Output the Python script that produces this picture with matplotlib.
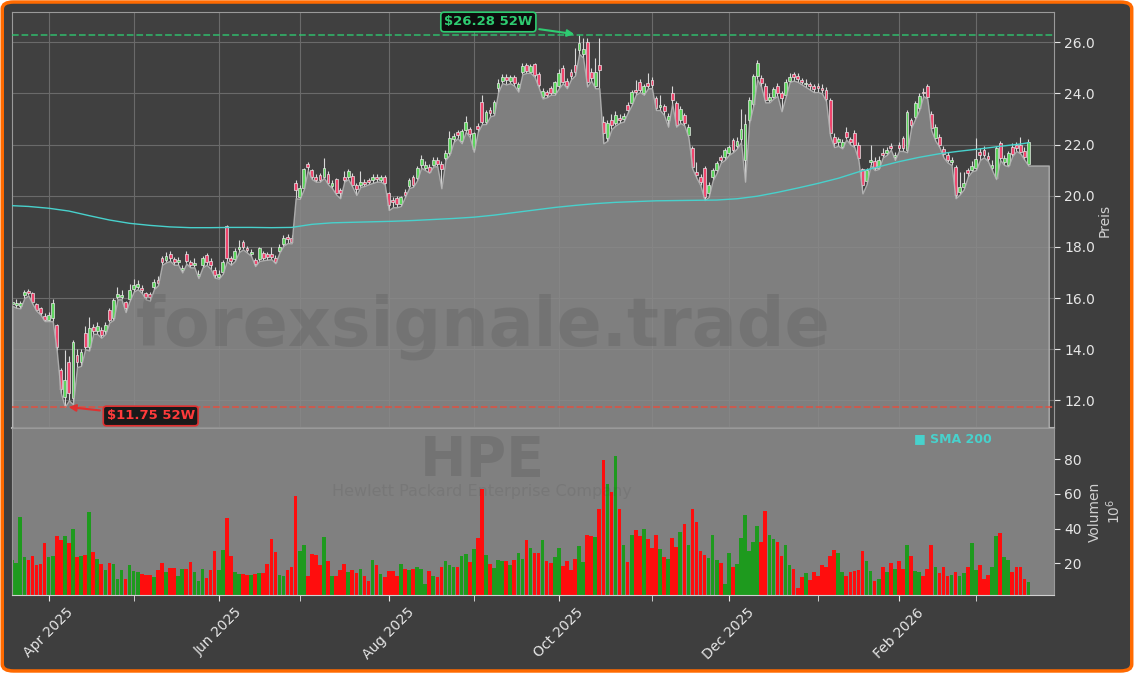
import numpy as np
import pandas as pd
import matplotlib
matplotlib.use("Agg")
import matplotlib.pyplot as plt
from matplotlib.patches import FancyBboxPatch
from matplotlib.ticker import FormatStrFormatter

# trading days (NYSE closed on these)
holidays = ["2025-04-18", "2025-05-26", "2025-06-19", "2025-07-04", "2025-09-01",
            "2025-11-27", "2025-12-25", "2026-01-01", "2026-01-19", "2026-02-16"]
dates = pd.bdate_range("2025-03-19", "2026-03-19", freq="C", holidays=holidays)

opens = [15.75, 15.72, 15.70, 16.10, 16.28, 16.20, 15.75, 15.60, 15.30, 15.15,
         15.20, 14.95, 13.20, 12.14, 13.51, 12.08, 13.77, 13.51, 14.62, 14.10,
         14.88, 14.70, 14.75, 14.70, 15.53, 15.20, 16.05, 16.05, 15.85, 15.95,
         16.35, 16.45, 16.40, 16.20, 16.15, 16.44, 16.70, 17.55, 17.50, 17.72,
         17.52, 17.40, 17.08, 17.72, 17.40, 17.28, 16.85, 17.30, 17.68, 17.45,
         17.10, 16.82, 17.03, 18.80, 17.55, 17.53, 17.90, 18.20, 17.97, 17.74,
         17.49, 17.53, 17.75, 17.72, 17.72, 17.55, 17.85, 18.10, 18.40, 18.35,
         20.48, 19.94, 20.29, 21.24, 21.00, 20.75, 20.82, 20.75, 20.85, 20.38,
         20.64, 20.22, 20.72, 20.75, 20.77, 20.40, 20.40, 20.55, 20.62, 20.60,
         20.74, 20.62, 20.72, 20.09, 19.85, 19.90, 19.68, 20.16, 20.38, 20.72,
         20.68, 21.20, 21.10, 21.14, 21.20, 21.40, 21.25, 21.46, 21.66, 22.20,
         22.48, 22.12, 22.57, 22.60, 21.83, 22.73, 23.65, 22.90, 23.35, 23.22,
         24.20, 24.50, 24.65, 24.50, 24.62, 24.20, 24.85, 25.10, 24.85, 25.14,
         24.75, 23.87, 24.05, 24.20, 24.00, 24.27, 25.01, 24.49, 24.83, 25.10,
         25.70, 25.55, 26.00, 24.85, 24.30, 25.11, 22.87, 22.25, 22.96, 22.83,
         23.05, 23.00, 23.55, 23.64, 24.15, 24.46, 24.00, 24.40, 24.53, 23.80,
         23.45, 23.50, 22.95, 24.00, 23.61, 22.96, 23.16, 22.37, 21.85, 20.94,
         20.74, 21.07, 20.09, 20.72, 21.00, 21.50, 21.50, 21.66, 22.18, 21.95,
         22.20, 21.40, 22.96, 23.59, 24.66, 24.59, 24.29, 23.75, 23.87, 24.27,
         24.00, 23.94, 24.50, 24.76, 24.68, 24.52, 24.35, 24.35, 24.27, 24.30,
         24.22, 24.13, 23.74, 22.31, 22.10, 21.92, 22.50, 22.22, 22.44, 22.00,
         21.03, 20.57, 21.30, 21.36, 21.10, 21.65, 21.68, 21.95, 21.50, 21.98,
         22.24, 21.79, 22.96, 23.09, 23.42, 24.07, 24.27, 23.18, 22.24, 22.31,
         21.83, 21.59, 21.30, 21.14, 20.15, 20.35, 21.00, 21.00, 21.10, 21.72,
         21.79, 21.55, 21.10, 20.70, 22.05, 21.30, 21.20, 21.92, 22.00, 21.98,
         21.75, 21.23]

highs = [15.95, 15.95, 15.90, 16.30, 16.35, 16.25, 15.80, 15.65, 15.40, 15.45,
         15.95, 15.00, 13.25, 13.97, 13.75, 14.35, 14.00, 14.00, 14.90, 15.27,
         15.00, 15.05, 14.85, 15.05, 15.60, 16.00, 16.45, 16.30, 15.90, 16.55,
         16.75, 16.70, 16.50, 16.25, 16.25, 16.75, 16.85, 17.65, 17.80, 17.85,
         17.60, 17.60, 17.30, 17.85, 17.50, 17.55, 17.10, 17.65, 17.75, 17.55,
         17.20, 17.10, 17.50, 18.85, 17.65, 17.95, 18.27, 18.25, 18.05, 17.92,
         17.55, 18.00, 17.82, 17.80, 18.00, 17.70, 18.10, 18.45, 18.50, 18.45,
         20.60, 20.40, 21.10, 21.30, 21.05, 20.85, 20.90, 21.46, 20.95, 20.60,
         20.70, 20.30, 20.95, 21.05, 20.90, 20.50, 20.95, 20.65, 20.70, 20.85,
         20.85, 20.82, 20.80, 20.15, 19.95, 20.00, 20.00, 20.25, 20.70, 20.80,
         21.15, 21.58, 21.35, 21.25, 21.50, 21.50, 21.35, 21.80, 22.51, 22.45,
         22.55, 22.60, 23.10, 22.70, 22.50, 22.85, 23.95, 23.35, 23.45, 23.75,
         24.55, 24.75, 24.75, 24.72, 24.70, 24.45, 25.20, 25.18, 25.15, 25.20,
         24.85, 24.20, 24.15, 24.30, 24.50, 24.95, 25.10, 24.60, 24.95, 25.76,
         26.28, 26.15, 26.16, 25.00, 25.40, 26.16, 23.10, 22.95, 23.20, 23.30,
         23.20, 23.25, 23.65, 24.15, 24.53, 24.55, 24.35, 24.79, 24.65, 23.90,
         23.94, 23.60, 23.25, 24.27, 23.70, 23.50, 23.25, 22.80, 21.95, 21.30,
         20.85, 21.15, 20.55, 21.10, 21.35, 21.60, 21.85, 22.00, 22.25, 22.30,
         23.40, 23.20, 23.85, 24.75, 25.31, 24.70, 24.40, 24.00, 24.25, 24.40,
         24.10, 24.55, 24.80, 24.85, 24.78, 24.60, 24.55, 24.45, 24.35, 24.40,
         24.35, 24.25, 23.80, 22.45, 22.30, 22.20, 22.70, 22.30, 22.55, 22.10,
         21.10, 21.10, 21.98, 21.50, 21.55, 21.88, 21.90, 22.05, 21.70, 22.10,
         22.35, 23.35, 23.05, 23.70, 24.00, 24.20, 24.36, 23.30, 22.80, 22.40,
         21.95, 21.70, 21.50, 21.20, 20.94, 20.94, 21.10, 21.35, 22.25, 21.85,
         21.95, 21.70, 21.40, 21.95, 22.15, 21.60, 21.75, 22.05, 22.10, 22.30,
         21.90, 22.20]

lows = [15.70, 15.62, 15.60, 16.00, 16.10, 15.78, 15.50, 15.35, 15.10, 15.10,
        15.10, 13.95, 12.30, 11.75, 12.00, 11.85, 13.30, 13.35, 14.00, 13.95,
        14.60, 14.60, 14.45, 14.60, 15.05, 15.15, 15.95, 15.95, 15.45, 15.90,
        16.25, 16.35, 16.20, 15.95, 15.90, 16.35, 16.50, 17.30, 17.40, 17.45,
        17.30, 17.30, 17.00, 17.35, 17.20, 17.20, 16.78, 17.20, 17.30, 17.15,
        16.80, 16.76, 16.95, 17.45, 17.30, 17.45, 17.80, 17.90, 17.78, 17.65,
        17.25, 17.45, 17.48, 17.50, 17.52, 17.36, 17.78, 18.05, 18.15, 18.14,
        19.90, 19.88, 20.25, 21.00, 20.65, 20.55, 20.55, 20.70, 20.45, 20.30,
        20.05, 19.90, 20.55, 20.65, 20.35, 20.03, 20.35, 20.38, 20.45, 20.50,
        20.55, 20.55, 20.45, 19.44, 19.55, 19.55, 19.60, 19.95, 20.30, 20.35,
        20.60, 21.10, 21.00, 20.90, 21.15, 21.15, 20.29, 21.40, 21.60, 22.10,
        22.25, 22.05, 22.50, 22.30, 21.72, 22.50, 22.80, 22.80, 23.10, 23.15,
        24.05, 24.40, 24.35, 24.40, 24.30, 24.07, 24.75, 24.80, 24.80, 24.65,
        24.25, 23.80, 23.85, 23.95, 23.95, 24.20, 24.40, 24.20, 24.55, 24.70,
        25.55, 25.40, 24.27, 24.50, 24.20, 24.20, 22.05, 22.15, 22.60, 22.75,
        22.85, 22.90, 23.25, 23.55, 23.95, 24.05, 23.95, 24.20, 24.20, 23.35,
        23.35, 23.15, 22.70, 23.60, 22.70, 22.85, 22.75, 22.30, 21.05, 20.70,
        20.40, 19.83, 19.95, 20.60, 20.90, 21.30, 21.40, 21.60, 21.70, 21.85,
        22.10, 20.55, 22.85, 23.50, 24.55, 24.25, 23.65, 23.65, 23.80, 23.90,
        23.30, 23.85, 24.45, 24.50, 24.45, 24.35, 24.25, 24.15, 24.05, 24.05,
        24.00, 23.70, 22.35, 21.90, 21.95, 21.85, 22.20, 22.00, 21.90, 21.40,
        20.09, 20.45, 21.20, 21.00, 21.05, 21.50, 21.60, 21.80, 21.40, 21.75,
        21.75, 21.70, 22.65, 23.00, 23.35, 23.90, 23.80, 22.55, 22.15, 21.90,
        21.50, 21.30, 21.20, 19.90, 20.05, 20.25, 20.75, 20.95, 21.00, 21.40,
        21.50, 21.35, 21.00, 20.65, 21.40, 21.20, 21.15, 21.55, 21.75, 21.65,
        21.40, 21.18]

closes = [15.85, 15.82, 15.80, 16.22, 16.20, 15.83, 15.55, 15.40, 15.15, 15.35,
          15.80, 14.10, 12.45, 12.79, 12.27, 14.29, 13.51, 13.90, 14.10, 14.81,
          14.72, 14.90, 14.55, 14.94, 15.14, 15.92, 16.15, 16.12, 15.60, 16.30,
          16.50, 16.55, 16.30, 16.05, 16.05, 16.64, 16.60, 17.42, 17.65, 17.58,
          17.40, 17.48, 17.18, 17.45, 17.30, 17.38, 16.95, 17.55, 17.40, 17.30,
          16.90, 16.95, 17.42, 17.55, 17.45, 17.84, 18.00, 18.00, 17.87, 17.80,
          17.33, 17.94, 17.55, 17.60, 17.62, 17.40, 18.00, 18.35, 18.30, 18.20,
          20.22, 20.29, 21.03, 21.11, 20.72, 20.62, 20.60, 21.07, 20.51, 20.50,
          20.10, 20.12, 20.62, 20.95, 20.42, 20.25, 20.52, 20.45, 20.55, 20.72,
          20.64, 20.72, 20.48, 19.64, 19.75, 19.68, 19.94, 20.03, 20.60, 20.42,
          21.10, 21.42, 21.20, 20.94, 21.40, 21.22, 21.05, 21.66, 22.25, 22.32,
          22.38, 22.53, 22.90, 22.40, 22.44, 22.60, 22.90, 23.26, 23.22, 23.68,
          24.40, 24.62, 24.52, 24.62, 24.40, 24.35, 25.08, 24.88, 25.05, 24.72,
          24.33, 24.10, 23.95, 24.00, 24.44, 24.79, 24.46, 24.30, 24.66, 24.85,
          25.95, 25.75, 24.45, 24.60, 24.85, 24.91, 22.44, 22.83, 22.77, 23.16,
          22.95, 23.10, 23.35, 24.07, 24.05, 24.13, 24.29, 24.29, 24.33, 23.42,
          23.55, 23.30, 23.10, 23.74, 22.77, 23.38, 22.83, 22.70, 21.14, 20.81,
          20.55, 19.96, 20.42, 21.00, 21.27, 21.40, 21.79, 21.90, 21.79, 22.15,
          22.60, 22.80, 23.74, 24.66, 25.20, 24.40, 23.74, 23.85, 24.16, 24.00,
          23.81, 24.46, 24.62, 24.63, 24.55, 24.45, 24.42, 24.27, 24.18, 24.22,
          24.12, 23.77, 22.44, 22.05, 22.20, 22.10, 22.30, 22.11, 21.98, 21.46,
          20.42, 21.00, 21.40, 21.07, 21.40, 21.58, 21.78, 21.88, 21.60, 21.85,
          21.85, 23.29, 22.77, 23.61, 23.91, 24.00, 23.87, 22.63, 22.70, 21.98,
          21.62, 21.40, 21.38, 20.03, 20.35, 20.50, 20.88, 21.15, 21.45, 21.60,
          21.59, 21.45, 21.20, 21.88, 21.46, 21.49, 21.66, 21.62, 21.88, 21.72,
          21.53, 22.11]

# volume in millions
volumes = [22, 20.5, 47, 23.5, 22, 24.2, 19, 19.6, 32, 23.6,
           24, 35.6, 33.3, 36, 32, 40, 23.6, 24, 24.7, 49.5,
           26.5, 22.8, 19.6, 16.2, 20, 19.6, 11, 16.2, 11, 19,
           15.8, 14.8, 13.8, 13.3, 13.5, 12.3, 16.2, 20, 14.8, 17.5,
           17.5, 12.5, 17, 16.8, 21, 15, 9.6, 16.8, 11.5, 16.2,
           27.1, 16.2, 27.7, 46.1, 24.2, 14.8, 13.8, 13.8, 13.3, 13.3,
           13.8, 14.4, 14.4, 19.6, 33.9, 26.3, 13.1, 12.9, 16.2, 17.9,
           58.6, 27.1, 30.5, 12.5, 25.4, 24.8, 19, 35.3, 21.3, 12.5,
           12.5, 16.2, 19.6, 14.8, 16.2, 14.6, 16.8, 12.5, 9.6, 22,
           19, 14, 12.3, 15.5, 15.5, 12.5, 19.6, 16.8, 16.2, 16.8,
           17.7, 16.8, 8.4, 15.5, 12.5, 12.3, 18.1, 21.4, 19, 18,
           18, 24.3, 25.4, 20.8, 28.2, 34.5, 63.1, 24.8, 19.6, 17.5,
           21.9, 21.3, 21.3, 19, 21.9, 25.9, 22.5, 33.4, 28.6, 25.9,
           25.9, 33.4, 21.3, 20.3, 23.6, 28.8, 18.5, 21.3, 16.2, 22.5,
           29.9, 20.8, 36.2, 35.6, 35.3, 51.4, 79.4, 65.9, 60.9, 81.7,
           51.4, 30.8, 20.8, 36.2, 39.1, 35.6, 40, 34.1, 28.8, 36.2,
           28.2, 23.6, 22.5, 34.5, 29.5, 37.9, 42.5, 30.5, 51.4, 43.9,
           27.1, 24.8, 23, 36.2, 21.9, 20.3, 8.4, 25.9, 17.8, 19.6,
           34.5, 47.9, 27.1, 32.2, 41.5, 32.2, 50, 36.2, 34.1, 32.2,
           24.2, 30.5, 19, 16.8, 5.8, 12.1, 14.4, 10.4, 15, 12.5,
           19, 18, 24.2, 27.6, 25.9, 15, 12.5, 15, 15.5, 16.2,
           27.1, 21.3, 15.5, 9.8, 11, 17.8, 15.3, 20, 16.8, 21.3,
           16.8, 30.5, 24.2, 15.5, 15, 12.9, 16.8, 30.8, 17.8, 14.4,
           17.9, 12.5, 13.1, 15, 12.5, 14.4, 17.8, 31.7, 16.2, 19,
           11, 13.1, 17.8, 35.9, 37.7, 23.6, 21.9, 15, 17.8, 17.8,
           11, 9.2]

# SMA 200 at every 5th trading day
sma_day = [0, 4, 9, 14, 19, 24, 29, 34, 39, 44, 49, 54, 59, 64, 69, 74, 79, 84, 89,
           94, 99, 104, 109, 114, 119, 124, 129, 134, 139, 144, 149, 154, 159, 164,
           169, 174, 179, 184, 189, 194, 199, 204, 209, 214, 219, 224, 229, 234, 239,
           244, 249, 251]
sma_200 = [19.61, 19.58, 19.51, 19.40, 19.22, 19.05, 18.92, 18.84, 18.78, 18.75,
           18.75, 18.76, 18.76, 18.75, 18.76, 18.88, 18.94, 18.96, 18.98, 19.00,
           19.03, 19.07, 19.11, 19.16, 19.24, 19.34, 19.44, 19.54, 19.62, 19.69,
           19.74, 19.77, 19.80, 19.81, 19.82, 19.83, 19.88, 19.98, 20.13, 20.30,
           20.48, 20.68, 20.93, 21.13, 21.33, 21.50, 21.64, 21.74, 21.83, 21.93,
           22.02, 22.07]

ticker = "HPE"
company = "Hewlett Packard Enterprise Company"

o = np.array(opens)
h = np.array(highs)
l = np.array(lows)
c = np.array(closes)
v = np.array(volumes)
x = np.arange(len(c))
up = c >= o

bg_col = "#3e3e3e"
txt_col = "#e6e6e6"

fig = plt.figure(figsize=(11.34, 6.73), dpi=100)
fig.patch.set_facecolor("white")
frame = FancyBboxPatch((0.002, 0.003), 0.996, 0.994,
                       boxstyle="round,pad=0,rounding_size=0.01",
                       transform=fig.transFigure, facecolor=bg_col,
                       edgecolor="#ff6a00", linewidth=2.5, zorder=-10)
fig.add_artist(frame)

ax = fig.add_axes([12 / 1134, 1 - 428 / 673, 1042 / 1134, 416 / 673])
vax = fig.add_axes([12 / 1134, 1 - 595 / 673, 1042 / 1134, 167 / 673], sharex=ax)
ax.set_facecolor("#404040")
vax.set_facecolor("#808080")

# candles
ax.vlines(x, l, h, color="#d8d8d8", linewidth=0.8, zorder=2)
ax.bar(x, np.maximum(np.abs(c - o), 0.04), bottom=np.minimum(o, c), width=0.7,
       color=np.where(up, "#5fd65f", "#f0466e"), edgecolor="#e8e8e8",
       linewidth=0.5, zorder=2.5)

# area under the lows, held flat to the right edge
xf = np.append(x, x[-1] + 5)
lf = np.append(l, l[-1])
ax.fill_between(xf, lf, 0, facecolor="#8a8a8a", edgecolor="#b8b8b8",
                linewidth=1.0, alpha=0.86, zorder=3)

ax.plot(sma_day, sma_200, color="#48d1cc", linewidth=1.0, zorder=4)

# 52 week high / low
hi_i, lo_i = int(np.argmax(h)), int(np.argmin(l))
ax.axhline(h[hi_i], color="#2ecc71", linestyle="--", linewidth=1.3, alpha=0.75, zorder=4)
ax.axhline(l[lo_i], color="#e74c3c", linestyle="--", linewidth=1.3, alpha=0.8, zorder=4)
ax.annotate(f"\\${h[hi_i]:.2f} 52W", xy=(hi_i - 0.5, h[hi_i] + 0.02),
            xytext=(hi_i - 22.4, h[hi_i] + 0.51), color="#2ecc71", fontsize=9.5,
            fontweight="bold", ha="center", va="center", zorder=6,
            bbox=dict(boxstyle="round,pad=0.25", fc="#0d0d0d", ec="#2ecc71", lw=1.2),
            arrowprops=dict(arrowstyle="-|>", color="#2ecc71", lw=1.5, mutation_scale=10))
ax.annotate(f"\\${l[lo_i]:.2f} 52W", xy=(lo_i + 0.3, l[lo_i]),
            xytext=(lo_i + 21.2, l[lo_i] - 0.36), color="#ff3b3b", fontsize=9.5,
            fontweight="bold", ha="center", va="center", zorder=6,
            bbox=dict(boxstyle="round,pad=0.25", fc="#1a1a1a", ec="#e03030", lw=1.2),
            arrowprops=dict(arrowstyle="-|>", color="#e03030", lw=1.5, mutation_scale=10))

ax.set_xlim(-0.05, len(x) + 5.3)
ax.set_ylim(10.92, 27.18)
ax.yaxis.tick_right()
ax.yaxis.set_label_position("right")
ax.set_yticks(np.arange(12, 27, 2))
ax.yaxis.set_major_formatter(FormatStrFormatter("%.1f"))
ax.set_ylabel("Preis", color="#d0d0d0", fontsize=10, labelpad=2)

# volume
vax.bar(x, v, width=0.9, color=np.where(up, "#1e9a1e", "#ff0d0d"), zorder=2)
vax.set_ylim(1.8, 98)
vax.yaxis.tick_right()
vax.yaxis.set_label_position("right")
vax.set_yticks([20, 40, 60, 80])
vax.set_ylabel("Volumen\n$10^6$", color="#d0d0d0", fontsize=10, labelpad=4)

# month ticks: labelled every second month
mstart = [i for i in range(1, len(dates)) if dates[i].month != dates[i - 1].month]
major = [i for i in mstart if dates[i].month % 2 == 0]
minor = [i for i in mstart if dates[i].month % 2 == 1]
vax.set_xticks(major)
vax.set_xticks(minor, minor=True)
vax.set_xticklabels([dates[i].strftime("%b %Y") for i in major], rotation=45,
                    ha="center")

ax.tick_params(axis="x", which="both", length=0, labelbottom=False)
ax.grid(True, which="both", color="#6a6a6a", linewidth=0.8)
for a in (ax, vax):
    a.tick_params(axis="y", colors=txt_col, labelsize=10, length=4)
    for s in a.spines.values():
        s.set_color("#9a9a9a")
vax.tick_params(axis="x", which="both", colors=txt_col, labelsize=10, length=4)
ax.spines["bottom"].set_color("#b4b4b4")
ax.spines["bottom"].set_linewidth(1.5)
vax.spines["bottom"].set_color("#d0d0d0")

# watermarks and legend
fig.text(0.426, 0.514, "forexsignale.trade", fontsize=48, fontweight="bold",
         color="#3a3a3a", alpha=0.16, ha="center", va="center")
fig.text(0.425, 0.315, ticker, fontsize=40, fontweight="bold",
         color="#3a3a3a", alpha=0.18, ha="center", va="center")
fig.text(0.425, 0.269, company, fontsize=11.5, color="#3a3a3a", alpha=0.12,
         ha="center", va="center")
fig.text(0.806, 0.349, "\u25a0 SMA 200", fontsize=9, fontweight="bold",
         color="#48d1cc", ha="left", va="center")

fig.savefig("out.png", dpi=100, facecolor=fig.get_facecolor())
